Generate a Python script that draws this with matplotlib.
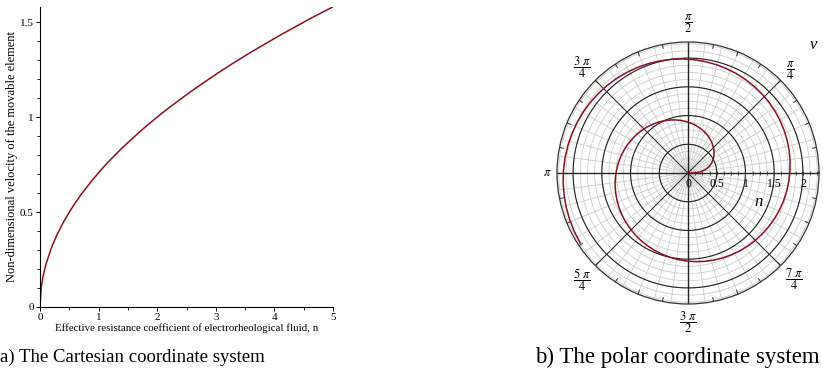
import matplotlib.pyplot as plt
import numpy as np

plt.rcParams['font.family'] = ['Liberation Serif', 'DejaVu Serif']
plt.rcParams['mathtext.fontset'] = 'stix'

# effective resistance coefficient n vs non-dimensional velocity v
n_vals = [0, 0.02, 0.05,
          0.1, 0.2, 0.3, 0.4, 0.5, 0.6, 0.7, 0.8, 0.9, 1.0,
          1.1, 1.2, 1.3, 1.4, 1.5, 1.6, 1.7, 1.8, 1.9, 2.0,
          2.1, 2.2, 2.3, 2.4, 2.5, 2.6, 2.7, 2.8, 2.9, 3.0,
          3.1, 3.2, 3.3, 3.4, 3.5, 3.6, 3.7, 3.8, 3.9, 4.0,
          4.1, 4.2, 4.3, 4.4, 4.5, 4.6, 4.7, 4.8, 4.9, 5.0,
          5.1, 5.2, 5.3, 5.4, 5.5, 5.6, 5.7, 5.8, 5.9, 6.0,
          6.1, 6.2, 6.3, 6.4, 6.5, 6.6, 6.7, 6.8, 6.9, 7.0,
          7.1, 7.2, 7.3, 7.4, 7.5, 7.6, 7.7, 7.8, 7.9, 8.0,
          8.1, 8.2, 8.3, 8.4, 8.5, 8.6, 8.7, 8.8, 8.9, 9.0,
          9.1, 9.2, 9.3, 9.4, 9.5, 9.6, 9.7, 9.8, 9.9, 10.0]
v_vals = [0, 0.100, 0.158,
          0.224, 0.316, 0.387, 0.447, 0.500, 0.548, 0.592, 0.632, 0.671, 0.707,
          0.742, 0.775, 0.806, 0.837, 0.866, 0.894, 0.922, 0.949, 0.975, 1.000,
          1.025, 1.049, 1.072, 1.095, 1.118, 1.140, 1.162, 1.183, 1.204, 1.225,
          1.245, 1.265, 1.285, 1.304, 1.323, 1.342, 1.360, 1.378, 1.396, 1.414,
          1.432, 1.449, 1.466, 1.483, 1.500, 1.517, 1.533, 1.549, 1.565, 1.581,
          1.597, 1.612, 1.628, 1.643, 1.658, 1.673, 1.688, 1.703, 1.718, 1.732,
          1.746, 1.761, 1.775, 1.789, 1.803, 1.817, 1.830, 1.844, 1.857, 1.871,
          1.884, 1.897, 1.910, 1.924, 1.936, 1.949, 1.962, 1.975, 1.987, 2.000,
          2.012, 2.025, 2.037, 2.049, 2.062, 2.074, 2.086, 2.098, 2.110, 2.121,
          2.133, 2.145, 2.156, 2.168, 2.179, 2.191, 2.202, 2.214, 2.225, 2.236]

x_ticks = [0, 1, 2, 3, 4, 5]
x_tick_labels = ['0', '1', '2', '3', '4', '5']
y_ticks = [0, 0.5, 1, 1.5]
y_tick_labels = ['0', '0.5', '1', '1.5']

r_label_pos = [0, 0.5, 1, 1.5, 2]
r_labels = ['0', '0.5', '1', '1.5', '2']
angle_label_pos = [np.pi / 4, np.pi / 2, 3 * np.pi / 4, np.pi, 5 * np.pi / 4, 3 * np.pi / 2, 7 * np.pi / 4]
angle_labels = [r'$\dfrac{\pi}{4}$', r'$\dfrac{\pi}{2}$', r'$\dfrac{3\ \pi}{4}$', r'$\pi$',
                r'$\dfrac{5\ \pi}{4}$', r'$\dfrac{3\ \pi}{2}$', r'$\dfrac{7\ \pi}{4}$']
angle_label_r = [2.53, 2.6, 2.62, 2.45, 2.62, 2.6, 2.6]

curve_color = '#8c1020'

fig = plt.figure(figsize=(8.23, 3.73), dpi=100)

# ---- (a) cartesian
ax = fig.add_axes([40 / 823, 66 / 373, 293 / 823, 300 / 373])
ax.plot(n_vals, v_vals, color=curve_color, lw=1.1)
ax.set_xlim(0, 5)
ax.set_ylim(0, 1.58)
ax.spines['top'].set_visible(False)
ax.spines['right'].set_visible(False)
ax.spines['left'].set_linewidth(0.8)
ax.spines['bottom'].set_linewidth(0.8)
ax.set_xticks(x_ticks)
ax.set_xticklabels(x_tick_labels)
ax.set_yticks(y_ticks)
ax.set_yticklabels(y_tick_labels)
ax.set_xticks(np.arange(0, 5.01, 0.5), minor=True)
ax.set_yticks(np.arange(0, 1.58, 0.1), minor=True)
ax.tick_params(which='major', length=3, width=0.7, labelsize=8, pad=1.5)
ax.tick_params(which='minor', length=2, width=0.6)
ax.set_xlabel('Effective resistance coefficient of electrorheological fluid, n', fontsize=7.8, labelpad=1)
ax.set_ylabel('Non-dimensional velocity of the movable element', fontsize=9, labelpad=1.5)

# ---- (b) polar
rmax = 2.28
pax = fig.add_axes([557 / 823, 69 / 373, 262 / 823, 262 / 373], projection='polar')
pax.set_ylim(0, rmax)
pax.set_xticks([])
pax.set_yticks([])
pax.grid(False)
pax.spines['polar'].set_color('#333333')
pax.spines['polar'].set_linewidth(0.9)

full = np.linspace(0, 2 * np.pi, 400)
# light grid circles and spokes
for r in np.arange(0.125, 2.26, 0.125):
    pax.plot(full, [r] * len(full), color='#cccccc', lw=0.6, zorder=1)
for a in np.arange(0, 2 * np.pi, np.pi / 24):
    pax.plot([a, a], [0, rmax], color='#cccccc', lw=0.6, zorder=1)
# dark circles and spokes
for r in [0.5, 1, 1.5, 2]:
    pax.plot(full, [r] * len(full), color='#222222', lw=0.8, zorder=2)
for a in np.arange(0, 2 * np.pi, np.pi / 4):
    lw = 1.0 if a % (np.pi / 2) == 0 else 0.7
    pax.plot([a, a], [0, rmax], color='#222222', lw=lw, zorder=2)
# outer ticks
for a in np.arange(0, 2 * np.pi, np.pi / 16):
    pax.plot([a, a], [rmax - 0.07, rmax], color='#333333', lw=0.7, zorder=2)
pax.plot([0] * 18, np.arange(0.125, 2.26, 0.125), ls='none', marker='|', ms=3,
         color='#333333', mew=0.6, zorder=3)

pax.plot(n_vals, v_vals, color=curve_color, lw=1.1, zorder=4)

for r, lab in zip(r_label_pos, r_labels):
    fig.text((688 + r * 57.5) / 823, 1 - 184 / 373, lab, ha='center', va='center', fontsize=8.5)

for a, lab, rr in zip(angle_label_pos, angle_labels, angle_label_r):
    pax.text(a, rr, lab, ha='center', va='center', fontsize=9, clip_on=False)

fig.text(813 / 823, 1 - 45 / 373, 'v', fontsize=12, style='italic', ha='center', va='center')
fig.text(759 / 823, 1 - 202 / 373, 'n', fontsize=12, style='italic', ha='center', va='center')

# captions
fig.text(0, 1 - 357 / 373, 'a) The Cartesian coordinate system', fontsize=13.5, ha='left', va='center')
fig.text(535 / 823, 1 - 357 / 373, 'b) The polar coordinate system', fontsize=16.5, ha='left', va='center')

fig.savefig('out.png', dpi=100)
